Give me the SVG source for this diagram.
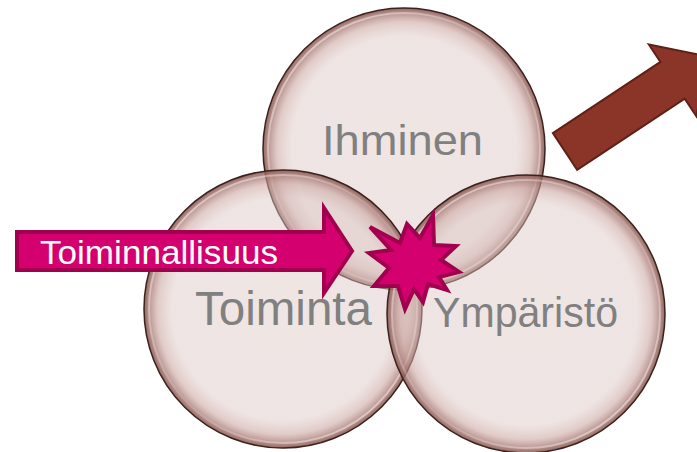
<svg xmlns="http://www.w3.org/2000/svg" width="697" height="452" viewBox="0 0 697 452">
<style>
.bubble{fill:url(#bg);stroke:#3a221e;stroke-width:1.5}
.gloss{fill:none;stroke:url(#gl);stroke-width:2}
.lbl{font-family:"Liberation Sans",Arial,sans-serif;fill:#808080}
.pink{fill:#d4006f;stroke:#a1004f;stroke-width:4;stroke-linejoin:miter}
.brown{fill:#8a3527;stroke:#5f2117;stroke-width:2}
</style>
<defs>
<radialGradient id="bg" cx="0.5" cy="0.5" r="0.5">
<stop offset="0" stop-color="#dcc6c3" stop-opacity="0.45"/>
<stop offset="0.8" stop-color="#dcc6c3" stop-opacity="0.47"/>
<stop offset="0.9" stop-color="#cba6a1" stop-opacity="0.58"/>
<stop offset="0.965" stop-color="#a57570" stop-opacity="0.78"/>
<stop offset="1" stop-color="#875750" stop-opacity="0.9"/>
</radialGradient>
<linearGradient id="gl" x1="0" y1="0" x2="1" y2="1">
<stop offset="0" stop-color="#ffffff" stop-opacity="0.6"/>
<stop offset="0.5" stop-color="#ffffff" stop-opacity="0.1"/>
<stop offset="1" stop-color="#ffffff" stop-opacity="0.6"/>
</linearGradient>
</defs>
<rect width="697" height="452" fill="#ffffff"/>
<g id="ihminen">
<circle class="bubble" cx="404" cy="149" r="141"/>
<circle class="gloss" cx="404" cy="149" r="136"/>
</g>
<g id="toiminta">
<circle class="bubble" cx="283" cy="309" r="139"/>
<circle class="gloss" cx="283" cy="309" r="134"/>
</g>
<g id="ymparisto">
<circle class="bubble" cx="526" cy="314" r="139"/>
<circle class="gloss" cx="526" cy="314" r="134"/>
</g>
<g id="labels">
<text class="lbl" x="322" y="155" font-size="42" textLength="161" lengthAdjust="spacingAndGlyphs">Ihminen</text>
<text class="lbl" x="195" y="325" font-size="48" textLength="177" lengthAdjust="spacingAndGlyphs">Toiminta</text>
<text class="lbl" x="433" y="327" font-size="42" textLength="185" lengthAdjust="spacingAndGlyphs">Ympäristö</text>
</g>
<g id="connectors">
<g id="toiminnallisuus">
<polygon class="pink" points="17,232 324,232 324,208 352,251 324,293 324,270 17,270"/>
<text x="40" y="264" font-family="'Liberation Sans',Arial,sans-serif" font-size="33" fill="#ffffff" textLength="238" lengthAdjust="spacingAndGlyphs">Toiminnallisuus</text>
</g>
<polygon class="brown" transform="translate(565,151.5) rotate(-33.5)" points="0,-22 129,-22 129,-43 172,0 129,43 129,22 0,22"/>
</g>
<g id="star">
<polygon class="pink" points="407,224 420,238 433,215 434,245 456,246 441,260 459,272 439,277 447,290 428,284 423,302 414,289 405,309 398,286 374,286 389,268 369,253 391,250 370,227 400,243"/>
</g>
</svg>
